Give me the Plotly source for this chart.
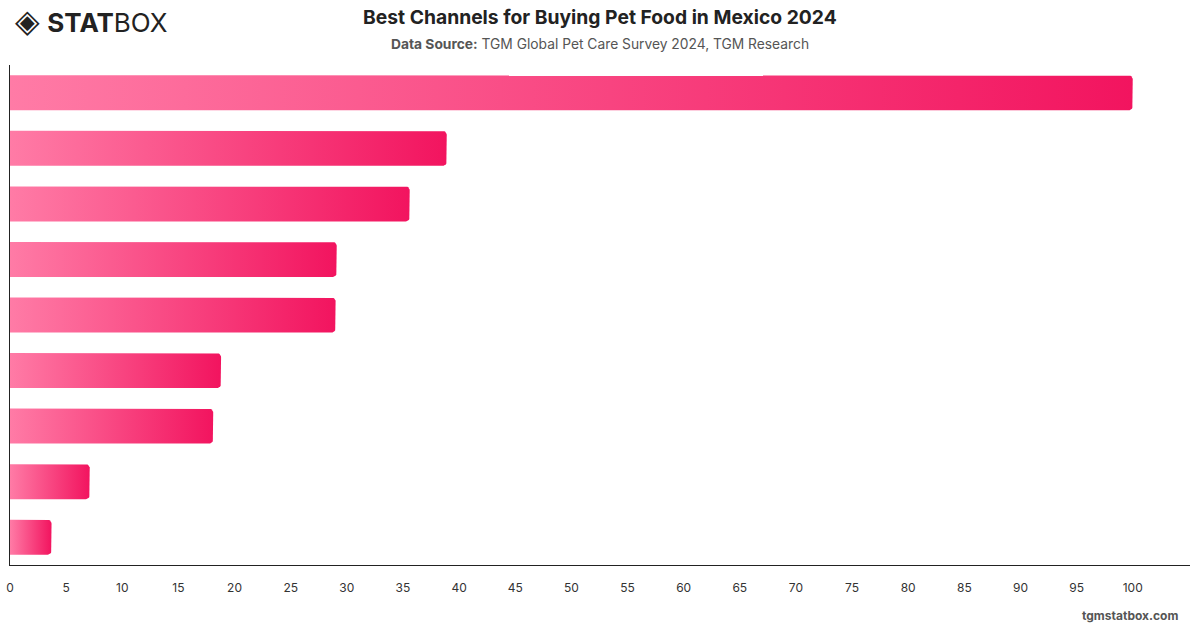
import numpy as np
import plotly.graph_objects as go

# ---- data ----
channels = ["Channel 1", "Channel 2", "Channel 3", "Channel 4", "Channel 5",
            "Channel 6", "Channel 7", "Channel 8", "Channel 9"]
values = [100, 38.9, 35.6, 29.1, 29.0, 18.8, 18.1, 7.1, 3.7]
x_ticks = list(range(0, 101, 5))

title_text = "Best Channels for Buying Pet Food in Mexico 2024"
source_text = "<b>Data Source:</b> TGM Global Pet Care Survey 2024, TGM Research"

# ---- geometry helpers ----
W, H = 1200, 628
ml, mr, mt, mb = 10, 10, 65, 63
x_max = 105.1
n = len(channels)
px_per_x = (W - ml - mr) / x_max
px_per_y = (H - mt - mb) / n
half = 0.315
rad_px = 4
rx = rad_px / px_per_x
ry = rad_px / px_per_y

fig = go.Figure()
for i, (name, v) in enumerate(zip(channels, values)):
    y0, y1 = i - half, i + half
    t1 = np.linspace(np.pi / 2, 0, 8)
    t2 = np.linspace(0, -np.pi / 2, 8)
    cx = v - rx
    xs = [0, cx] + list(cx + rx * np.cos(t1)) + list(cx + rx * np.cos(t2)) + [cx, 0, 0]
    ys = [y0, y0] + list((y0 + ry) - ry * np.sin(t1)) + list((y1 - ry) - ry * np.sin(t2)) + [y1, y1, y0]
    fig.add_trace(go.Scatter(
        x=xs, y=ys, mode="lines", fill="toself",
        line=dict(width=0, color="rgba(0,0,0,0)"),
        fillgradient=dict(type="horizontal",
                          colorscale=[[0, "#ff7ba6"], [1, "#f2145f"]]),
        name=name, hoverinfo="skip", showlegend=False,
    ))

fig.update_layout(
    width=W, height=H,
    margin=dict(l=ml, r=mr, t=mt, b=mb, autoexpand=False),
    paper_bgcolor="white", plot_bgcolor="white",
    font=dict(family="Inter, Roboto, sans-serif", color="#333"),
    xaxis=dict(range=[0, x_max], tickvals=x_ticks, showgrid=False, zeroline=False,
               showline=True, linecolor="#222", linewidth=1,
               ticks="", ticklen=0, tickfont=dict(size=12, color="#333"),
               ticklabelstandoff=12, automargin=False, fixedrange=True),
    yaxis=dict(range=[n - 0.5, -0.5], showticklabels=False, showgrid=False,
               zeroline=False, showline=True, linecolor="#222", linewidth=1,
               ticks="", automargin=False, fixedrange=True),
    showlegend=False,
)

def py(p):
    return 1 - (p - mt) / (H - mt - mb)

def px(p):
    return (p - ml) / (W - ml - mr)

fig.add_annotation(text="<b>" + title_text + "</b>", x=px(600), y=py(17), xref="paper", yref="paper",
                   showarrow=False, font=dict(size=19.3, color="#222", family="Inter, sans-serif"),
                   xanchor="center", yanchor="middle")
fig.add_annotation(text=source_text, x=px(600), y=py(44), xref="paper", yref="paper",
                   showarrow=False, font=dict(size=13.8, color="#555", family="Inter, sans-serif"),
                   xanchor="center", yanchor="middle")
fig.add_annotation(text="<b>tgmstatbox.com</b>", x=px(1180), y=py(615), xref="paper", yref="paper",
                   showarrow=False, font=dict(size=12, color="#555", family="Inter, sans-serif"),
                   xanchor="right", yanchor="middle")
fig.add_annotation(text="<span style='font-size:32px'>◈</span> <b>STAT</b>BOX", x=px(13), y=py(21),
                   xref="paper", yref="paper", showarrow=False,
                   font=dict(size=26, color="#222", family="Inter, sans-serif"),
                   xanchor="left", yanchor="middle")

fig.write_html("out.html")
